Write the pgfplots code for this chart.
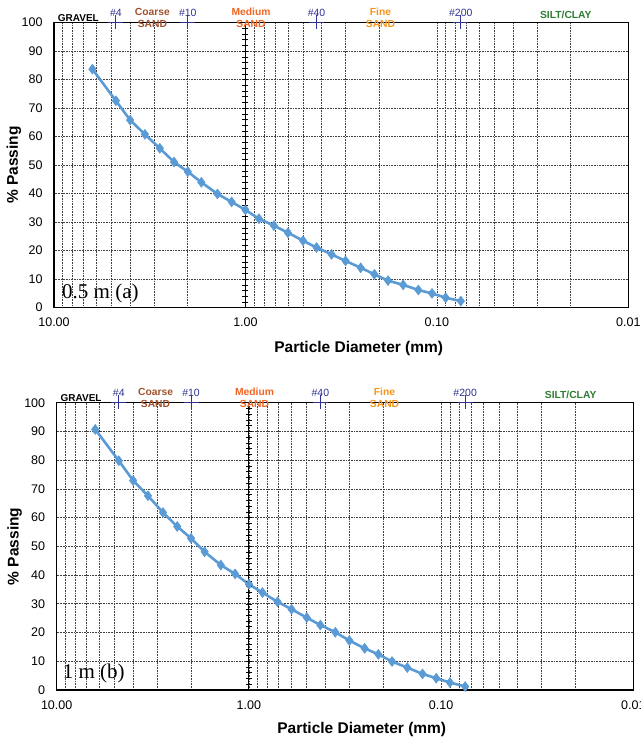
\documentclass[border=0pt]{standalone}
\usepackage{fontspec}
\setmainfont{Liberation Sans}
\newfontfamily\timesfont{Liberation Serif}
\usepackage{pgfplots}
\usepackage{pgfplotstable}
\pgfplotsset{compat=1.18}
\definecolor{excelblue}{HTML}{5B9BD5}
\definecolor{navy}{HTML}{2E3192}
\definecolor{coarsec}{HTML}{A0522D}
\definecolor{mediumc}{HTML}{F26522}
\definecolor{finec}{HTML}{F7941D}
\definecolor{siltc}{HTML}{2E7D32}
\definecolor{gridc}{HTML}{404040}

\pgfplotstableread{
d P
6.3 83.7
4.75 72.6
4.0 65.8
3.35 60.8
2.8 55.9
2.36 51.1
2.0 47.7
1.7 44.0
1.4 39.9
1.18 37.1
1.0 34.3
0.85 31.2
0.71 28.8
0.6 26.3
0.5 23.5
0.425 21.1
0.355 18.7
0.3 16.4
0.25 14.0
0.212 11.7
0.18 9.5
0.15 8.0
0.125 6.2
0.106 5.0
0.09 3.5
0.075 2.3
}\dataA

\pgfplotstableread{
d P
6.3 90.7
4.75 79.8
4.0 72.9
3.35 67.6
2.8 61.8
2.36 56.9
2.0 52.8
1.7 48.1
1.4 43.5
1.18 40.4
1.0 36.8
0.85 33.9
0.71 30.7
0.6 28.1
0.5 25.2
0.425 22.6
0.355 20.1
0.3 17.2
0.25 14.5
0.212 12.4
0.18 9.9
0.15 7.8
0.125 5.6
0.106 4.1
0.09 2.6
0.075 1.2
}\dataB

\newcommand{\sieve}[2]{%
  \draw[navy, line width=1pt] ([yshift=7.7pt]axis cs:#1,100) -- ([yshift=-6.7pt]axis cs:#1,100);
  \draw[navy, line width=1pt] ([xshift=-7.5pt]axis cs:#1,100) -- ([xshift=7.5pt]axis cs:#1,100);
  \node[navy, font=\fontsize{10.5}{12}\selectfont, yshift=9.5pt, inner sep=0pt] at (axis cs:#1,100) {#2};
}
\newcommand{\annot}{%
  \addplot[black, line width=1pt] coordinates {(1,0) (1,100)};
  \addplot[only marks, black, mark=-, mark size=3pt, mark options={line width=0.6pt}] coordinates {
    (1,2) (1,4) (1,6) (1,8) (1,10) (1,12) (1,14) (1,16) (1,18) (1,20)
    (1,22) (1,24) (1,26) (1,28) (1,30) (1,32) (1,34) (1,36) (1,38) (1,40)
    (1,42) (1,44) (1,46) (1,48) (1,50) (1,52) (1,54) (1,56) (1,58) (1,60)
    (1,62) (1,64) (1,66) (1,68) (1,70) (1,72) (1,74) (1,76) (1,78) (1,80)
    (1,82) (1,84) (1,86) (1,88) (1,90) (1,92) (1,94) (1,96) (1,98)};
  \sieve{4.75}{\#4}
  \sieve{2.0}{\#10}
  \sieve{0.425}{\#40}
  \sieve{0.075}{\#200}
  \node[black, font=\bfseries\fontsize{10}{12}\selectfont, yshift=4.4pt, inner sep=0pt] at (axis cs:7.46,100) {GRAVEL};
  \node[coarsec, font=\bfseries\fontsize{10.3}{12}\selectfont, yshift=11pt, inner sep=0pt] at (axis cs:3.06,100) {Coarse};
  \node[coarsec, font=\bfseries\fontsize{10.3}{12}\selectfont, yshift=-1.3pt, inner sep=0pt] at (axis cs:3.06,100) {SAND};
  \node[mediumc, font=\bfseries\fontsize{10.3}{12}\selectfont, yshift=11pt, inner sep=0pt] at (axis cs:0.935,100) {Medium};
  \node[mediumc, font=\bfseries\fontsize{10.3}{12}\selectfont, yshift=-1.3pt, inner sep=0pt] at (axis cs:0.935,100) {SAND};
  \node[finec, font=\bfseries\fontsize{10.3}{12}\selectfont, yshift=11pt, inner sep=0pt] at (axis cs:0.197,100) {Fine};
  \node[finec, font=\bfseries\fontsize{10.3}{12}\selectfont, yshift=-1.3pt, inner sep=0pt] at (axis cs:0.197,100) {SAND};
  \node[siltc, font=\bfseries\fontsize{10.3}{12}\selectfont, yshift=8pt, inner sep=0pt] at (axis cs:0.0212,100) {SILT/CLAY};
}

\begin{document}
\begin{tikzpicture}
\useasboundingbox (0,0) rectangle (640pt,739pt);
\begin{axis}[at={(54pt,431.33pt)}, anchor=south west,
  width=574.3pt, height=285pt,
  scale only axis, clip=false,
  xmode=log, x dir=reverse, xmin=0.01, xmax=10, ymin=0, ymax=100,
  xtick={10,1,0.1,0.01}, xticklabels={10.00,1.00,0.10,0.01},
  minor xtick={2,3,4,5,6,7,8,9,0.2,0.3,0.4,0.5,0.6,0.7,0.8,0.9,0.02,0.03,0.04,0.05,0.06,0.07,0.08,0.09},
  ytick={0,10,...,100},
  /pgf/number format/assume math mode=true,
  xmajorgrids, xminorgrids, ymajorgrids,
  major grid style={gridc, line width=0.7pt, dash pattern=on 1pt off 0.6pt},
  minor grid style={gridc, line width=0.7pt, dash pattern=on 1pt off 0.6pt},
  major tick length=0pt, minor tick length=0pt,
  axis line style={black, line width=1.1pt},
  tick label style={font=\fontsize{12.5}{14}\selectfont},
  yticklabel style={xshift=-8pt},
  xticklabel style={yshift=-7pt},
  ylabel={\% Passing},
  xlabel={Particle Diameter (mm)},
  label style={font=\bfseries\fontsize{15.5}{18}\selectfont},
  ylabel style={at={(axis description cs:-0.0697,0.5)}, anchor=center},
  xlabel style={at={(axis description cs:0.5306,-0.1428)}, anchor=center}]
\annot
\addplot[excelblue, line width=2.6pt, mark=diamond*, mark size=5pt, mark options={line width=0.5pt, fill=excelblue}] table[x=d, y=P] {\dataA};
\node[anchor=west, inner sep=0pt, font=\timesfont\fontsize{21}{24}\selectfont, xshift=8pt, yshift=14.5pt] at (rel axis cs:0,0) {0.5 m (a)};
\end{axis}
\begin{axis}[at={(56.67pt,49pt)}, anchor=south west,
  width=576.7pt, height=287.3pt,
  scale only axis, clip=false,
  xmode=log, x dir=reverse, xmin=0.01, xmax=10, ymin=0, ymax=100,
  xtick={10,1,0.1,0.01}, xticklabels={10.00,1.00,0.10,0.01},
  minor xtick={2,3,4,5,6,7,8,9,0.2,0.3,0.4,0.5,0.6,0.7,0.8,0.9,0.02,0.03,0.04,0.05,0.06,0.07,0.08,0.09},
  ytick={0,10,...,100},
  /pgf/number format/assume math mode=true,
  xmajorgrids, xminorgrids, ymajorgrids,
  major grid style={gridc, line width=0.7pt, dash pattern=on 1pt off 0.6pt},
  minor grid style={gridc, line width=0.7pt, dash pattern=on 1pt off 0.6pt},
  major tick length=0pt, minor tick length=0pt,
  axis line style={black, line width=1.1pt},
  tick label style={font=\fontsize{12.5}{14}\selectfont},
  yticklabel style={xshift=-8pt},
  xticklabel style={yshift=-7pt},
  ylabel={\% Passing},
  xlabel={Particle Diameter (mm)},
  label style={font=\bfseries\fontsize{15.5}{18}\selectfont},
  ylabel style={at={(axis description cs:-0.073,0.5)}, anchor=center},
  xlabel style={at={(axis description cs:0.529,-0.139)}, anchor=center}]
\annot
\addplot[excelblue, line width=2.6pt, mark=diamond*, mark size=5pt, mark options={line width=0.5pt, fill=excelblue}] table[x=d, y=P] {\dataB};
\node[anchor=west, inner sep=0pt, font=\timesfont\fontsize{21}{24}\selectfont, xshift=6pt, yshift=16.5pt] at (rel axis cs:0,0) {1 m (b)};
\end{axis}
\end{tikzpicture}
\end{document}
